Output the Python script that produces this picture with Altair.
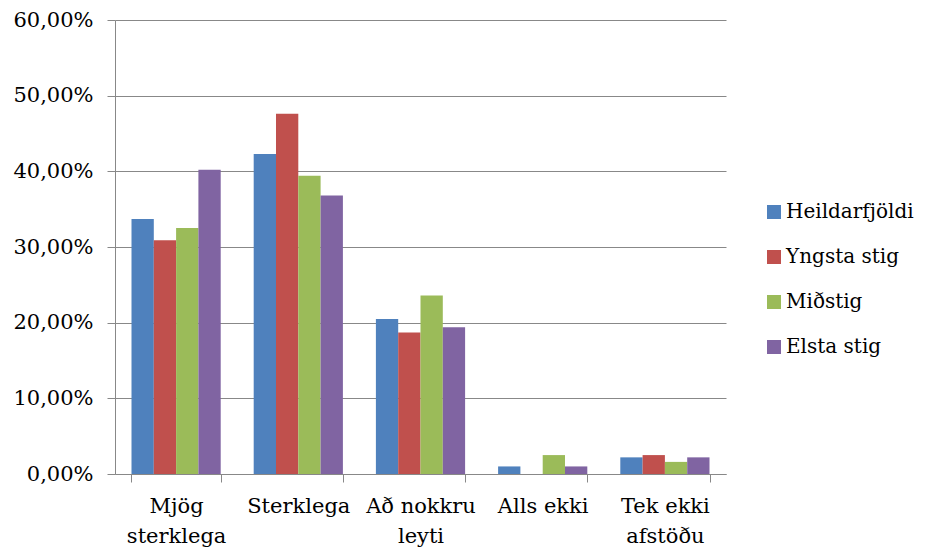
import altair as alt
import pandas as pd

categories = ["Mjög|sterklega", "Sterklega", "Að nokkru|leyti", "Alls ekki", "Tek ekki|afstöðu"]
series = ["Heildarfjöldi", "Yngsta stig", "Miðstig", "Elsta stig"]
heildarfjoldi = [0.337, 0.423, 0.205, 0.010, 0.022]
yngsta_stig = [0.309, 0.476, 0.187, 0.000, 0.025]
midstig = [0.325, 0.394, 0.236, 0.025, 0.016]
elsta_stig = [0.402, 0.368, 0.194, 0.010, 0.022]
colors = ["#4F81BD", "#C0504D", "#9BBB59", "#8064A2"]

values = [heildarfjoldi, yngsta_stig, midstig, elsta_stig]
rows = []
for s, vals in zip(series, values):
    for c, v in zip(categories, vals):
        rows.append({"cat": c, "series": s, "value": v})
df = pd.DataFrame(rows)

FONT = "DejaVu Serif"
FS = 21
GRID = "#888888"

chart = alt.Chart(df).mark_bar().encode(
    x=alt.X("cat:N", sort=categories, title=None,
            scale=alt.Scale(paddingInner=0.27, paddingOuter=0.135),
            axis=alt.Axis(labelAngle=0, tickBand="extent", tickSize=8,
                          tickColor=GRID, domainColor=GRID, labelPadding=13,
                          labelExpr="split(datum.label, '|')", labelLineHeight=30,
                          labelFontSize=FS, labelFont=FONT, labelColor="#000000",
                          labelBaseline="top")),
    xOffset=alt.XOffset("series:N", sort=series,
                        scale=alt.Scale(paddingInner=0, paddingOuter=0)),
    y=alt.Y("value:Q", title=None,
            scale=alt.Scale(domain=[0, 0.6], nice=False),
            axis=alt.Axis(values=[0, 0.1, 0.2, 0.3, 0.4, 0.5, 0.6], tickSize=8,
                          tickColor=GRID, domainColor=GRID, gridColor=GRID,
                          labelExpr="replace(format(datum.value, '.2%'), '.', ',')",
                          labelPadding=14, labelFontSize=FS, labelFont=FONT,
                          labelColor="#000000")),
    color=alt.Color("series:N", sort=series, title=None,
                    scale=alt.Scale(domain=series, range=colors),
                    legend=alt.Legend(orient="none", legendX=649, legendY=182,
                                      symbolType="square", symbolSize=196,
                                      symbolStrokeWidth=0, labelFontSize=20,
                                      labelFont=FONT, labelColor="#000000",
                                      labelOffset=2, rowPadding=25)),
).properties(
    width=611, height=454,
    autosize=alt.AutoSizeParams(type="none"),
    padding={"left": 107, "top": 12, "right": 192, "bottom": 76},
).configure(font=FONT).configure_view(stroke=None).configure_axis(
    gridWidth=1, domainWidth=1, tickWidth=1)

chart.save("out.html", embed_options={"renderer": "svg", "actions": False})
